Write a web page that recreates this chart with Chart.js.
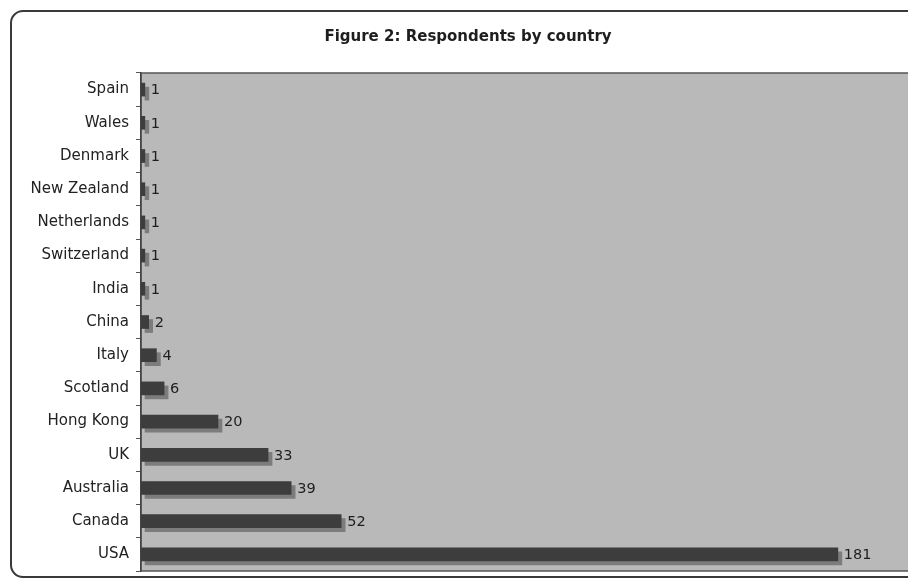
<!DOCTYPE html>
<html>
<head>
<meta charset="utf-8">
<script src="https://cdn.jsdelivr.net/npm/chart.js@4/dist/chart.umd.min.js"></script>
<style>
  html, body { margin: 0; padding: 0; background: #ffffff; overflow: hidden; }
  #wrap { width: 936px; height: 580px; position: relative; }
</style>
</head>
<body>
<div id="wrap"><canvas id="chart" width="936" height="580"></canvas></div>
<script>
// Respondents per country
const countries = ['Spain', 'Wales', 'Denmark', 'New Zealand', 'Netherlands', 'Switzerland',
  'India', 'China', 'Italy', 'Scotland', 'Hong Kong', 'UK', 'Australia', 'Canada', 'USA'];
const respondents = [1, 1, 1, 1, 1, 1, 1, 2, 4, 6, 20, 33, 39, 52, 181];
const chartTitle = 'Figure 2: Respondents by country';

const FONT = '"DejaVu Sans", Verdana, sans-serif';

// Rounded frame, title and grey plot background
const framePlugin = {
  id: 'frame',
  beforeDraw(chart) {
    const { ctx, chartArea: a } = chart;
    ctx.save();
    ctx.fillStyle = '#ffffff';
    ctx.fillRect(0, 0, chart.width, chart.height);
    // outer rounded border
    ctx.strokeStyle = '#3a3a3a';
    ctx.lineWidth = 2;
    ctx.beginPath();
    ctx.roundRect(11, 11, chart.width + 20, 566, 12);
    ctx.stroke();
    // plot background
    ctx.fillStyle = '#b9b9b9';
    ctx.fillRect(a.left, a.top, a.right - a.left, a.bottom - a.top);
    ctx.strokeStyle = '#555555';
    ctx.lineWidth = 1.5;
    ctx.strokeRect(a.left, a.top, a.right - a.left, a.bottom - a.top);
    // title
    ctx.fillStyle = '#1e1e1e';
    ctx.font = 'bold 15px ' + FONT;
    ctx.textAlign = 'center';
    ctx.textBaseline = 'middle';
    ctx.fillText(chartTitle, 468, 37);
    ctx.restore();
  },
  beforeDatasetDraw(chart) {
    const ctx = chart.ctx;
    ctx.save();
    ctx.shadowColor = '#7c7c7c';
    ctx.shadowOffsetX = 4;
    ctx.shadowOffsetY = 4;
    ctx.shadowBlur = 0;
  },
  afterDatasetDraw(chart) {
    chart.ctx.restore();
  },
  afterDatasetsDraw(chart) {
    const { ctx } = chart;
    const meta = chart.getDatasetMeta(0);
    ctx.save();
    ctx.fillStyle = '#1e1e1e';
    ctx.font = '14.5px ' + FONT;
    ctx.textAlign = 'left';
    ctx.textBaseline = 'middle';
    meta.data.forEach((bar, i) => {
      ctx.fillText(String(chart.data.datasets[0].data[i]), bar.x + 6, bar.y + 1);
    });
    ctx.restore();
  }
};

new Chart(document.getElementById('chart'), {
  type: 'bar',
  data: {
    labels: countries,
    datasets: [{
      data: respondents,
      backgroundColor: '#3d3d3d',
      borderWidth: 0,
      barThickness: 13
    }]
  },
  options: {
    indexAxis: 'y',
    responsive: false,
    animation: false,
    devicePixelRatio: 1,
    layout: { padding: { top: 73, bottom: 9, right: 25, left: 0 } },
    plugins: {
      legend: { display: false },
      title: { display: false },
      tooltip: { enabled: false }
    },
    scales: {
      x: {
        display: false,
        min: 0,
        max: 200
      },
      y: {
        afterFit(scale) {
          scale.width = 141;
          scale.paddingTop = 0;
          scale.paddingBottom = 0;
        },
        border: { display: true, color: '#444444', width: 1.5 },
        grid: {
          offset: true,
          drawOnChartArea: false,
          drawTicks: true,
          tickLength: 5,
          color: '#555555'
        },
        ticks: {
          color: '#222222',
          padding: 7,
          font: { family: FONT, size: 15 }
        }
      }
    }
  },
  plugins: [framePlugin]
});
</script>
</body>
</html>
